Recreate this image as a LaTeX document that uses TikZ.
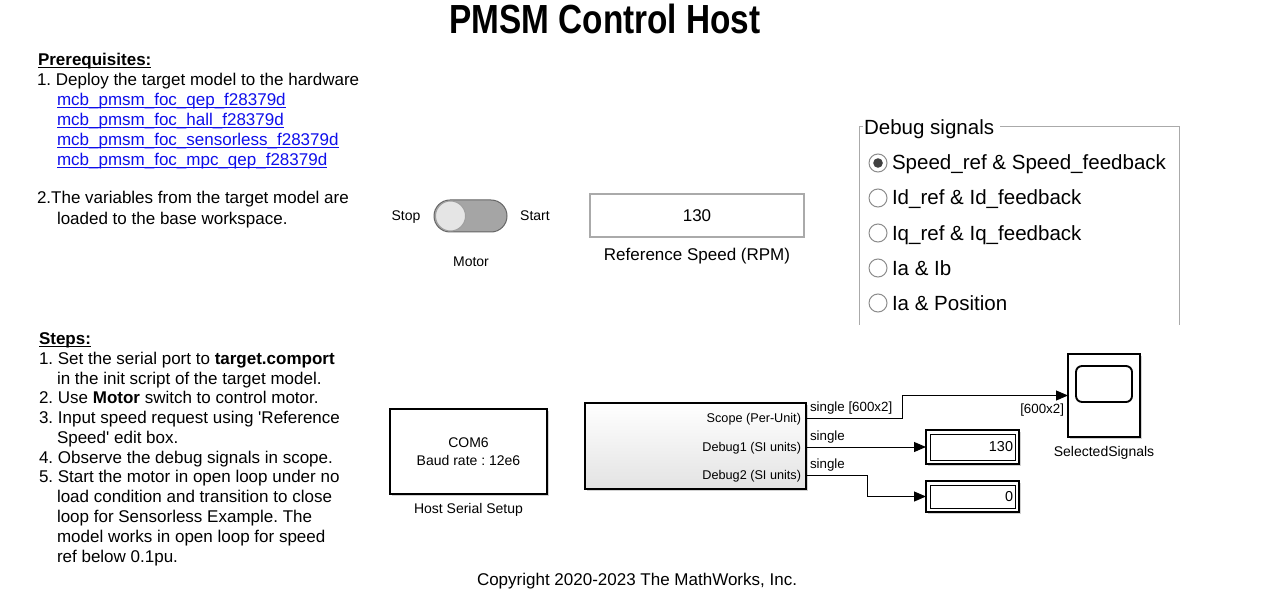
\documentclass[tikz,border=0pt]{standalone}
\usepackage{fontspec}
\setmainfont{Liberation Sans}
\usetikzlibrary{arrows.meta,shadows}
\frenchspacing
\definecolor{linkblue}{RGB}{15,15,235}
\definecolor{uigray}{RGB}{165,165,165}
\definecolor{framegray}{RGB}{170,170,170}
\newcommand\ulbox[1]{\setbox0\hbox{#1}\rlap{\rule[-1.8pt]{\wd0}{0.75pt}}\box0}
\begin{document}
\begin{tikzpicture}[x=0.75pt,y=-0.75pt,
  every node/.style={inner sep=0pt,outer sep=0pt},
  body/.style={font=\fontsize{12.75pt}{15pt}\selectfont,anchor=base west},
  smalltxt/.style={font=\fontsize{10.5pt}{13.5pt}\selectfont},
  porttxt/.style={font=\fontsize{9.5pt}{11pt}\selectfont},
  sigtxt/.style={font=\fontsize{10pt}{12pt}\selectfont},
  radiotxt/.style={font=\fontsize{15.4pt}{18pt}\selectfont,anchor=base west},
  radiobtn/.style={circle,draw=gray!90,fill=white,line width=0.75pt,minimum size=13.5pt},
  blockbox/.style={draw=black,line width=0.9pt,fill=white,drop shadow={shadow xshift=1.5pt,shadow yshift=-1.5pt,opacity=0.35}},
  sig/.style={draw=black,line width=0.75pt,-{Triangle[length=9pt,width=7.5pt]}},
  groupline/.style={draw=framegray,line width=0.75pt}]
\useasboundingbox (0,0) rectangle (1280,595);
\fill[white] (0,0) rectangle (1280,595);

% Title
\node[anchor=base,font=\fontsize{30.5pt}{36pt}\selectfont\bfseries] (title) at (605,34) {\scalebox{0.82}[1]{PMSM Control Host}};

% Prerequisites
\node[body,font=\fontsize{12.75pt}{15pt}\selectfont\bfseries] (pre) at (38,66) {\ulbox{Prerequisites:}};
\node[body] (pre1) at (37,86) {1. Deploy the target model to the hardware};
\node[body,text=linkblue] (lk1) at (57,106) {\ulbox{mcb\_pmsm\_foc\_qep\_f28379d}};
\node[body,text=linkblue] (lk2) at (57,126) {\ulbox{mcb\_pmsm\_foc\_hall\_f28379d}};
\node[body,text=linkblue] (lk3) at (57,146) {\ulbox{mcb\_pmsm\_foc\_sensorless\_f28379d}};
\node[body,text=linkblue] (lk4) at (57,166) {\ulbox{mcb\_pmsm\_foc\_mpc\_qep\_f28379d}};
\node[body] (pre2) at (37,204) {2.The variables from the target model are};
\node[body] (pre2b) at (57,224) {loaded to the base workspace.};

% Steps
\node[body,font=\fontsize{12.75pt}{15pt}\selectfont\bfseries] (steps) at (39,344.3) {\ulbox{Steps:}};
\node[body] (s1) at (39,364.3) {1. Set the serial port to \textbf{target.comport}};
\node[body] (s1b) at (57,384.1) {in the init script of the target model.};
\node[body] (s2) at (39,403.8) {2. Use \textbf{Motor} switch to control motor.};
\node[body] (s3) at (39,423.6) {3. Input speed request using \textquotesingle Reference};
\node[body] (s3b) at (57,443.4) {Speed\textquotesingle\ edit box.};
\node[body] (s4) at (39,463.2) {4. Observe the debug signals in scope.};
\node[body] (s5) at (39,482.9) {5. Start the motor in open loop under no};
\node[body] (s5b) at (57,502.7) {load condition and transition to close};
\node[body] (s5c) at (57,522.5) {loop for Sensorless Example. The};
\node[body] (s5d) at (57,542.2) {model works in open loop for speed};
\node[body] (s5e) at (57,562) {ref below 0.1pu.};

% Motor switch
\node[smalltxt,anchor=base] (stop) at (406,221) {Stop};
\node[smalltxt,anchor=base] (start) at (535,221) {Start};
\node[draw=gray!80!black,fill=uigray,rounded corners=12pt,minimum width=54.75pt,minimum height=24pt,line width=0.75pt] (track) at (470.5,216) {};
\node[circle,draw=gray!75,fill=gray!20,minimum size=22.5pt,line width=0.75pt] (knob) at (450.5,216) {};
\node[smalltxt,anchor=base] (motor) at (471,266) {Motor};

% Reference speed edit box
\node[draw=framegray,line width=0.9pt,minimum width=160.5pt,minimum height=32.25pt,font=\fontsize{12.75pt}{15pt}\selectfont] (ebox) at (697,215.5) {130};
\node[body,anchor=base] (reflbl) at (697,260) {Reference Speed (RPM)};

% Debug signals group
\node[radiotxt] (dbg) at (864,135) {Debug signals};
\coordinate (gtl) at (859,127);
\coordinate (gtr) at (1179,127);
\coordinate (gbl) at (859,325);
\coordinate (gbr) at (1179,325);
\draw[groupline] ([xshift=4.5pt]dbg.east |- gtr) -- (gtr) -- (gbr);
\draw[groupline] ([xshift=3pt]gtl) -- (gtl) -- (gbl);
\node[radiobtn] (r1) at (878,163) {};
\fill[black!75] (r1.center) circle (3.6pt);
\node[radiobtn] (r2) at (878,198) {};
\node[radiobtn] (r3) at (878,233) {};
\node[radiobtn] (r4) at (878,268) {};
\node[radiobtn] (r5) at (878,303) {};
\node[radiotxt] (r1t) at (892,170) {Speed\_ref \& Speed\_feedback};
\node[radiotxt] (r2t) at (892,205) {Id\_ref \& Id\_feedback};
\node[radiotxt] (r3t) at (892,240) {Iq\_ref \& Iq\_feedback};
\node[radiotxt] (r4t) at (892,275) {Ia \& Ib};
\node[radiotxt] (r5t) at (892,310) {Ia \& Position};

% Host serial setup block
\node[blockbox,minimum width=117.75pt,minimum height=63.75pt,align=center,smalltxt] (hss) at (468.5,451.5) {COM6\\Baud rate : 12e6};
\node[smalltxt,anchor=base] (hsslbl) at (468.5,513) {Host Serial Setup};

% Subsystem block
\node[draw=black,line width=0.9pt,top color=white,bottom color=gray!22,minimum width=165.75pt,minimum height=64.5pt,drop shadow={shadow xshift=1.5pt,shadow yshift=-1.5pt,opacity=0.35}] (sub) at (695.5,446) {};
\node[porttxt,anchor=base east] (pl1) at (801,422.5) {Scope (Per-Unit)};
\node[porttxt,anchor=base east] (pl2) at (801,451.5) {Debug1 (SI units)};
\node[porttxt,anchor=base east] (pl3) at (801,479.5) {Debug2 (SI units)};
\coordinate (o1) at (806,418);
\coordinate (o2) at (806,447);
\coordinate (o3) at (806,475);

% Scope block
\node[blockbox,minimum width=54pt,minimum height=62.25pt] (scope) at (1104,395.5) {};
\draw[line width=1.4pt,rounded corners=4.5pt] (1076,366) rectangle (1132,402);
\node[smalltxt,anchor=base] (scopelbl) at (1104,456) {SelectedSignals};

% Display blocks
\node[blockbox,minimum width=69.75pt,minimum height=25.5pt] (d1) at (972.5,447) {};
\draw[line width=0.75pt] ([shift={(4,4)}]d1.north west) rectangle ([shift={(-4,-4)}]d1.south east);
\node[font=\fontsize{10.8pt}{13pt}\selectfont,anchor=east] (d1v) at (1013,447) {130};
\node[blockbox,minimum width=69.75pt,minimum height=23.25pt] (d2) at (972.5,496.5) {};
\draw[line width=0.75pt] ([shift={(4,4)}]d2.north west) rectangle ([shift={(-4,-4)}]d2.south east);
\node[font=\fontsize{10.8pt}{13pt}\selectfont,anchor=east] (d2v) at (1013,496.5) {0};

% Signals
\draw[sig] (o1) -- ++(96,0) |- (scope.west);
\draw[sig] (o2) -- (d1.west);
\draw[sig] (o3) -- ++(61,0) |- (d2.west);
\node[sigtxt,anchor=base west] (l1) at (810,411) {single [600x2]};
\node[sigtxt,anchor=base west] (l2) at (810,440) {single};
\node[sigtxt,anchor=base west] (l3) at (810,468) {single};
\node[sigtxt,anchor=base east] (l4) at (1064,413) {[600x2]};

% Copyright
\node[body,anchor=base] (copy) at (637,585) {Copyright 2020-2023 The MathWorks, Inc.};
\end{tikzpicture}
\end{document}
